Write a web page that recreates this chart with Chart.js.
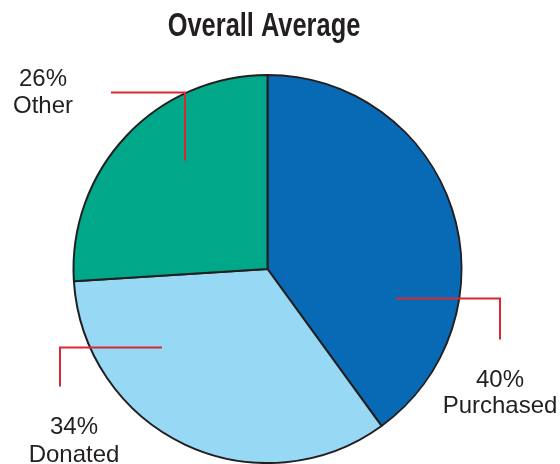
<!DOCTYPE html>
<html>
<head>
<meta charset="utf-8">
<script src="https://cdn.jsdelivr.net/npm/chart.js@4/dist/chart.umd.min.js"></script>
<style>
  html, body { margin: 0; padding: 0; background: #fff; }
  #wrap { width: 560px; height: 464px; position: relative; }
</style>
</head>
<body>
<div id="wrap"><canvas id="grafica"></canvas></div>
<script>
const categorias = ['Purchased', 'Donated', 'Other'];
const porcentajes = [40, 34, 26];
const colores = ['#0869b5', '#97d8f5', '#00a889'];
const titulo = 'Overall Average';

// leader lines, offsets from pie centre in px for a 194px radius
const guias = [
    { a: [128.5, 29.5], b: [232.5, 29.5], c: [232.5, 70.5], tx: 232.5, ty: [117.5, 143.5] },
    { a: [-105.5, 78.5], b: [-207.5, 78.5], c: [-207.5, 117.5], tx: -193.5, ty: [164.5, 192.5] },
    { a: [-82.5, -108.5], b: [-82.5, -176.5], c: [-156.5, -176.5], tx: -224.5, ty: [-183.5, -156.5] }
];

// condensed bold title (no condensed font installed, so squeeze it)
const tituloAngosto = {
    id: 'tituloAngosto',
    afterDraw(chart) {
        const ctx = chart.ctx;
        ctx.save();
        ctx.font = 'bold 33px "Liberation Sans", Arial, sans-serif';
        ctx.fillStyle = '#231f20';
        ctx.textAlign = 'center';
        ctx.textBaseline = 'alphabetic';
        ctx.translate(264, 36);
        ctx.scale(0.77, 1);
        ctx.fillText(titulo, 0, 0);
        ctx.restore();
    }
};

const etiquetas = {
    id: 'etiquetas',
    afterDatasetsDraw(chart) {
        const ctx = chart.ctx;
        const arcs = chart.getDatasetMeta(0).data;
        ctx.save();
        arcs.forEach((arc, i) => {
            const g = guias[i];
            const u = arc.outerRadius / 194;
            const px = (p) => [arc.x + p[0] * u, arc.y + p[1] * u];
            const a = px(g.a), b = px(g.b), c = px(g.c);
            ctx.strokeStyle = '#d62a33';
            ctx.lineWidth = 2;
            ctx.beginPath();
            ctx.moveTo(a[0], a[1]);
            ctx.lineTo(b[0], b[1]);
            ctx.lineTo(c[0], c[1]);
            ctx.stroke();

            ctx.fillStyle = '#231f20';
            ctx.font = '24px "Liberation Sans", Arial, sans-serif';
            ctx.textAlign = 'center';
            ctx.textBaseline = 'alphabetic';
            ctx.fillText(porcentajes[i] + '%', arc.x + g.tx * u, arc.y + g.ty[0] * u);
            ctx.fillText(categorias[i], arc.x + g.tx * u, arc.y + g.ty[1] * u);
        });
        ctx.restore();
    }
};

const ctx = document.getElementById('grafica');

new Chart(ctx, {
    type: 'pie',
    data: {
        labels: categorias,
        datasets: [{
            data: porcentajes,
            backgroundColor: colores,
            borderColor: '#231f20',
            borderWidth: 2
        }]
    },
    options: {
        responsive: true,
        maintainAspectRatio: false,
        animation: false,
        events: [],
        layout: {
            padding: { top: 74, right: 25, bottom: 0, left: 0 }
        },
        plugins: {
            legend: { display: false },
            tooltip: { enabled: false },
            title: { display: false }
        }
    },
    plugins: [etiquetas, tituloAngosto]
});
</script>
</body>
</html>
